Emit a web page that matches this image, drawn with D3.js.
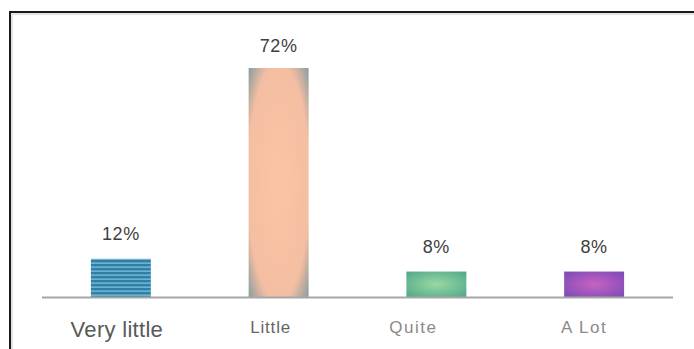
<!DOCTYPE html>
<html><head><meta charset="utf-8">
<script src="https://cdn.jsdelivr.net/npm/d3@7"></script>
<style>body{margin:0;background:#fff;}svg{display:block;font-family:"Liberation Sans",Arial,sans-serif;}</style>
</head><body>
<script>
const categories = ["Very little", "Little", "Quite", "A Lot"];
const values = [12, 72, 8, 8];
const labels = ["12%", "72%", "8%", "8%"];

const W = 694, H = 349;
const svg = d3.select("body").append("svg").attr("width", W).attr("height", H);
const defs = svg.append("defs");

// gradients
const pg = defs.append("radialGradient").attr("id","gPeach").attr("cx","50%").attr("cy","50%").attr("r","72%");
pg.append("stop").attr("offset","0%").attr("stop-color","#fcc4a3");
pg.append("stop").attr("offset","72%").attr("stop-color","#f4bea2");
pg.append("stop").attr("offset","100%").attr("stop-color","#7f9a9e");
const gg = defs.append("radialGradient").attr("id","gGreen").attr("cx","50%").attr("cy","50%").attr("r","70%");
gg.append("stop").attr("offset","0%").attr("stop-color","#9ad8a2");
gg.append("stop").attr("offset","100%").attr("stop-color","#4fa88a");
const vg = defs.append("radialGradient").attr("id","gPurple").attr("cx","50%").attr("cy","50%").attr("r","70%");
vg.append("stop").attr("offset","0%").attr("stop-color","#c862c2");
vg.append("stop").attr("offset","100%").attr("stop-color","#7a4ab8");
const bp = defs.append("pattern").attr("id","gBlue").attr("patternUnits","userSpaceOnUse").attr("width",4).attr("height",4);
bp.append("rect").attr("width",4).attr("height",4).attr("fill","#2f7fa6");
bp.append("rect").attr("width",4).attr("height",1.3).attr("y",2.5).attr("fill","#7cc0dc");
const fills = ["url(#gBlue)","url(#gPeach)","url(#gGreen)","url(#gPurple)"];

// frame
svg.append("rect").attr("x",10).attr("y",12).attr("width",720).attr("height",400)
  .attr("fill","none").attr("stroke","#1a1a1a").attr("stroke-width",2);
svg.append("rect").attr("x",12).attr("y",14).attr("width",720).attr("height",400)
  .attr("fill","none").attr("stroke","#e4e4e4").attr("stroke-width",2);

const x = d3.scaleBand().domain(categories).range([42, 673]).paddingInner(0.62).paddingOuter(0.31);
const y = d3.scaleLinear().domain([0, 72]).range([297, 68]);

svg.selectAll("rect.bar").data(values).join("rect").attr("class","bar")
  .attr("x",(d,i)=>x(categories[i])).attr("width",x.bandwidth())
  .attr("y",d=>y(d)).attr("height",d=>y(0)-y(d))
  .attr("fill",(d,i)=>fills[i]);

// axis line
svg.append("line").attr("x1",42).attr("x2",673).attr("y1",297.5).attr("y2",297.5)
  .attr("stroke","#a6a6a6").attr("stroke-width",2);

svg.selectAll("text.val").data(values).join("text").attr("class","val")
  .attr("x",(d,i)=>x(categories[i])+x.bandwidth()/2).attr("y",d=>y(d)-(d>50?16:19))
  .attr("text-anchor","middle").attr("font-size",18).attr("letter-spacing",0.5).attr("fill","#404040")
  .text((d,i)=>labels[i]);

const catSize = [22, 17, 17, 17];
const catY = [337, 333, 333, 333];
const catShift = [-4, -8, -23, -10];
const catSpacing = [0.3, 0.8, 1.5, 1.5];
const catColor = ["#595959", "#666666", "#8a8a8a", "#8a8a8a"];
svg.selectAll("text.cat").data(categories).join("text").attr("class","cat")
  .attr("x",(d,i)=>x(d)+x.bandwidth()/2+catShift[i]).attr("y",(d,i)=>catY[i])
  .attr("text-anchor","middle").attr("font-size",(d,i)=>catSize[i])
  .attr("letter-spacing",(d,i)=>catSpacing[i]).attr("fill",(d,i)=>catColor[i])
  .text(d=>d);
</script>
</body></html>
